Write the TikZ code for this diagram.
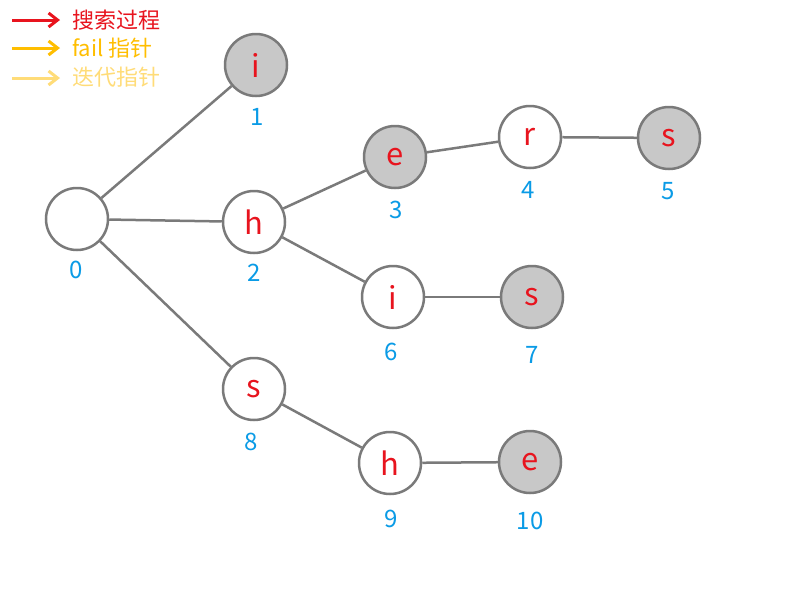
\documentclass[tikz,border=0pt]{standalone}
\usepackage{fontspec}
\setmainfont{Noto Sans CJK SC}
\usetikzlibrary{arrows.meta}
\definecolor{edgegray}{HTML}{7A7A7A}
\definecolor{fillgray}{HTML}{C8C8C8}
\definecolor{letred}{HTML}{E8141E}
\definecolor{numblue}{HTML}{0A9BE6}
\definecolor{failorange}{HTML}{FFBE00}
\definecolor{iterlight}{HTML}{FFDC78}
\tikzset{
  x=1pt, y=-1pt,
  trienode/.style={circle, draw=edgegray, line width=2.5pt, minimum size=62pt, inner sep=0pt, fill=white,
    text=letred, font=\fontsize{31}{31}\selectfont},
  endnode/.style={trienode, fill=fillgray},
  numlabel/.style={text=numblue, font=\fontsize{24}{24}\selectfont},
  edge/.style={draw=edgegray, line width=2.5pt},
  legarrow/.style={line width=3pt, -{Straight Barb[length=9pt,width=14pt]}},
  legtext/.style={anchor=west, font=\fontsize{22}{22}\selectfont, inner sep=0pt},
}
\begin{document}
\begin{tikzpicture}
\useasboundingbox (0,0) rectangle (800,600);
\fill[white] (0,0) rectangle (800,600);
% legend
\coordinate (a1s) at (12,20); \coordinate (a1e) at (60,20);
\coordinate (a2s) at (12,48); \coordinate (a2e) at (60,48);
\coordinate (a3s) at (12,78); \coordinate (a3e) at (60,78);
\draw[legarrow, letred] (a1s) -- (a1e);
\draw[legarrow, failorange] (a2s) -- (a2e);
\draw[legarrow, iterlight] (a3s) -- (a3e);
\node[legtext, text=letred] (l1) at (72,20) {搜索过程};
\node[legtext, text=failorange] (l2) at (72,48) {fail 指针};
\node[legtext, text=iterlight] (l3) at (72,77) {迭代指针};
% nodes
\node[trienode] (n0) at (77,219) {};
\node[endnode] (n1) at (256,65) {i};
\node[trienode] (n2) at (254,222) {h};
\node[endnode] (n3) at (395,157) {e};
\node[trienode] (n4) at (530,137) {r};
\node[endnode] (n5) at (669,138) {s};
\node[trienode] (n6) at (393,297) {i};
\node[endnode] (n7) at (532,297) {s};
\node[trienode] (n8) at (254,389) {s};
\node[trienode] (n9) at (390,463) {h};
\node[endnode] (n10) at (530,462) {e};
% edges
\draw[edge] (n0) -- (n1);
\draw[edge] (n0) -- (n2);
\draw[edge] (n0) -- (n8);
\draw[edge] (n2) -- (n3);
\draw[edge] (n3) -- (n4);
\draw[edge] (n4) -- (n5);
\draw[edge] (n2) -- (n6);
\draw[edge] (n6) -- (n7);
\draw[edge] (n8) -- (n9);
\draw[edge] (n9) -- (n10);
% labels
\node[numlabel] (t0) at (76,270) {0};
\node[numlabel] (t1) at (257,117) {1};
\node[numlabel] (t2) at (254,273) {2};
\node[numlabel] (t3) at (396,210) {3};
\node[numlabel] (t4) at (528,190) {4};
\node[numlabel] (t5) at (668,191) {5};
\node[numlabel] (t6) at (391,352) {6};
\node[numlabel] (t7) at (532,355) {7};
\node[numlabel] (t8) at (251,442) {8};
\node[numlabel] (t9) at (391,519) {9};
\node[numlabel] (t10) at (530,521) {10};
\end{tikzpicture}
\end{document}
